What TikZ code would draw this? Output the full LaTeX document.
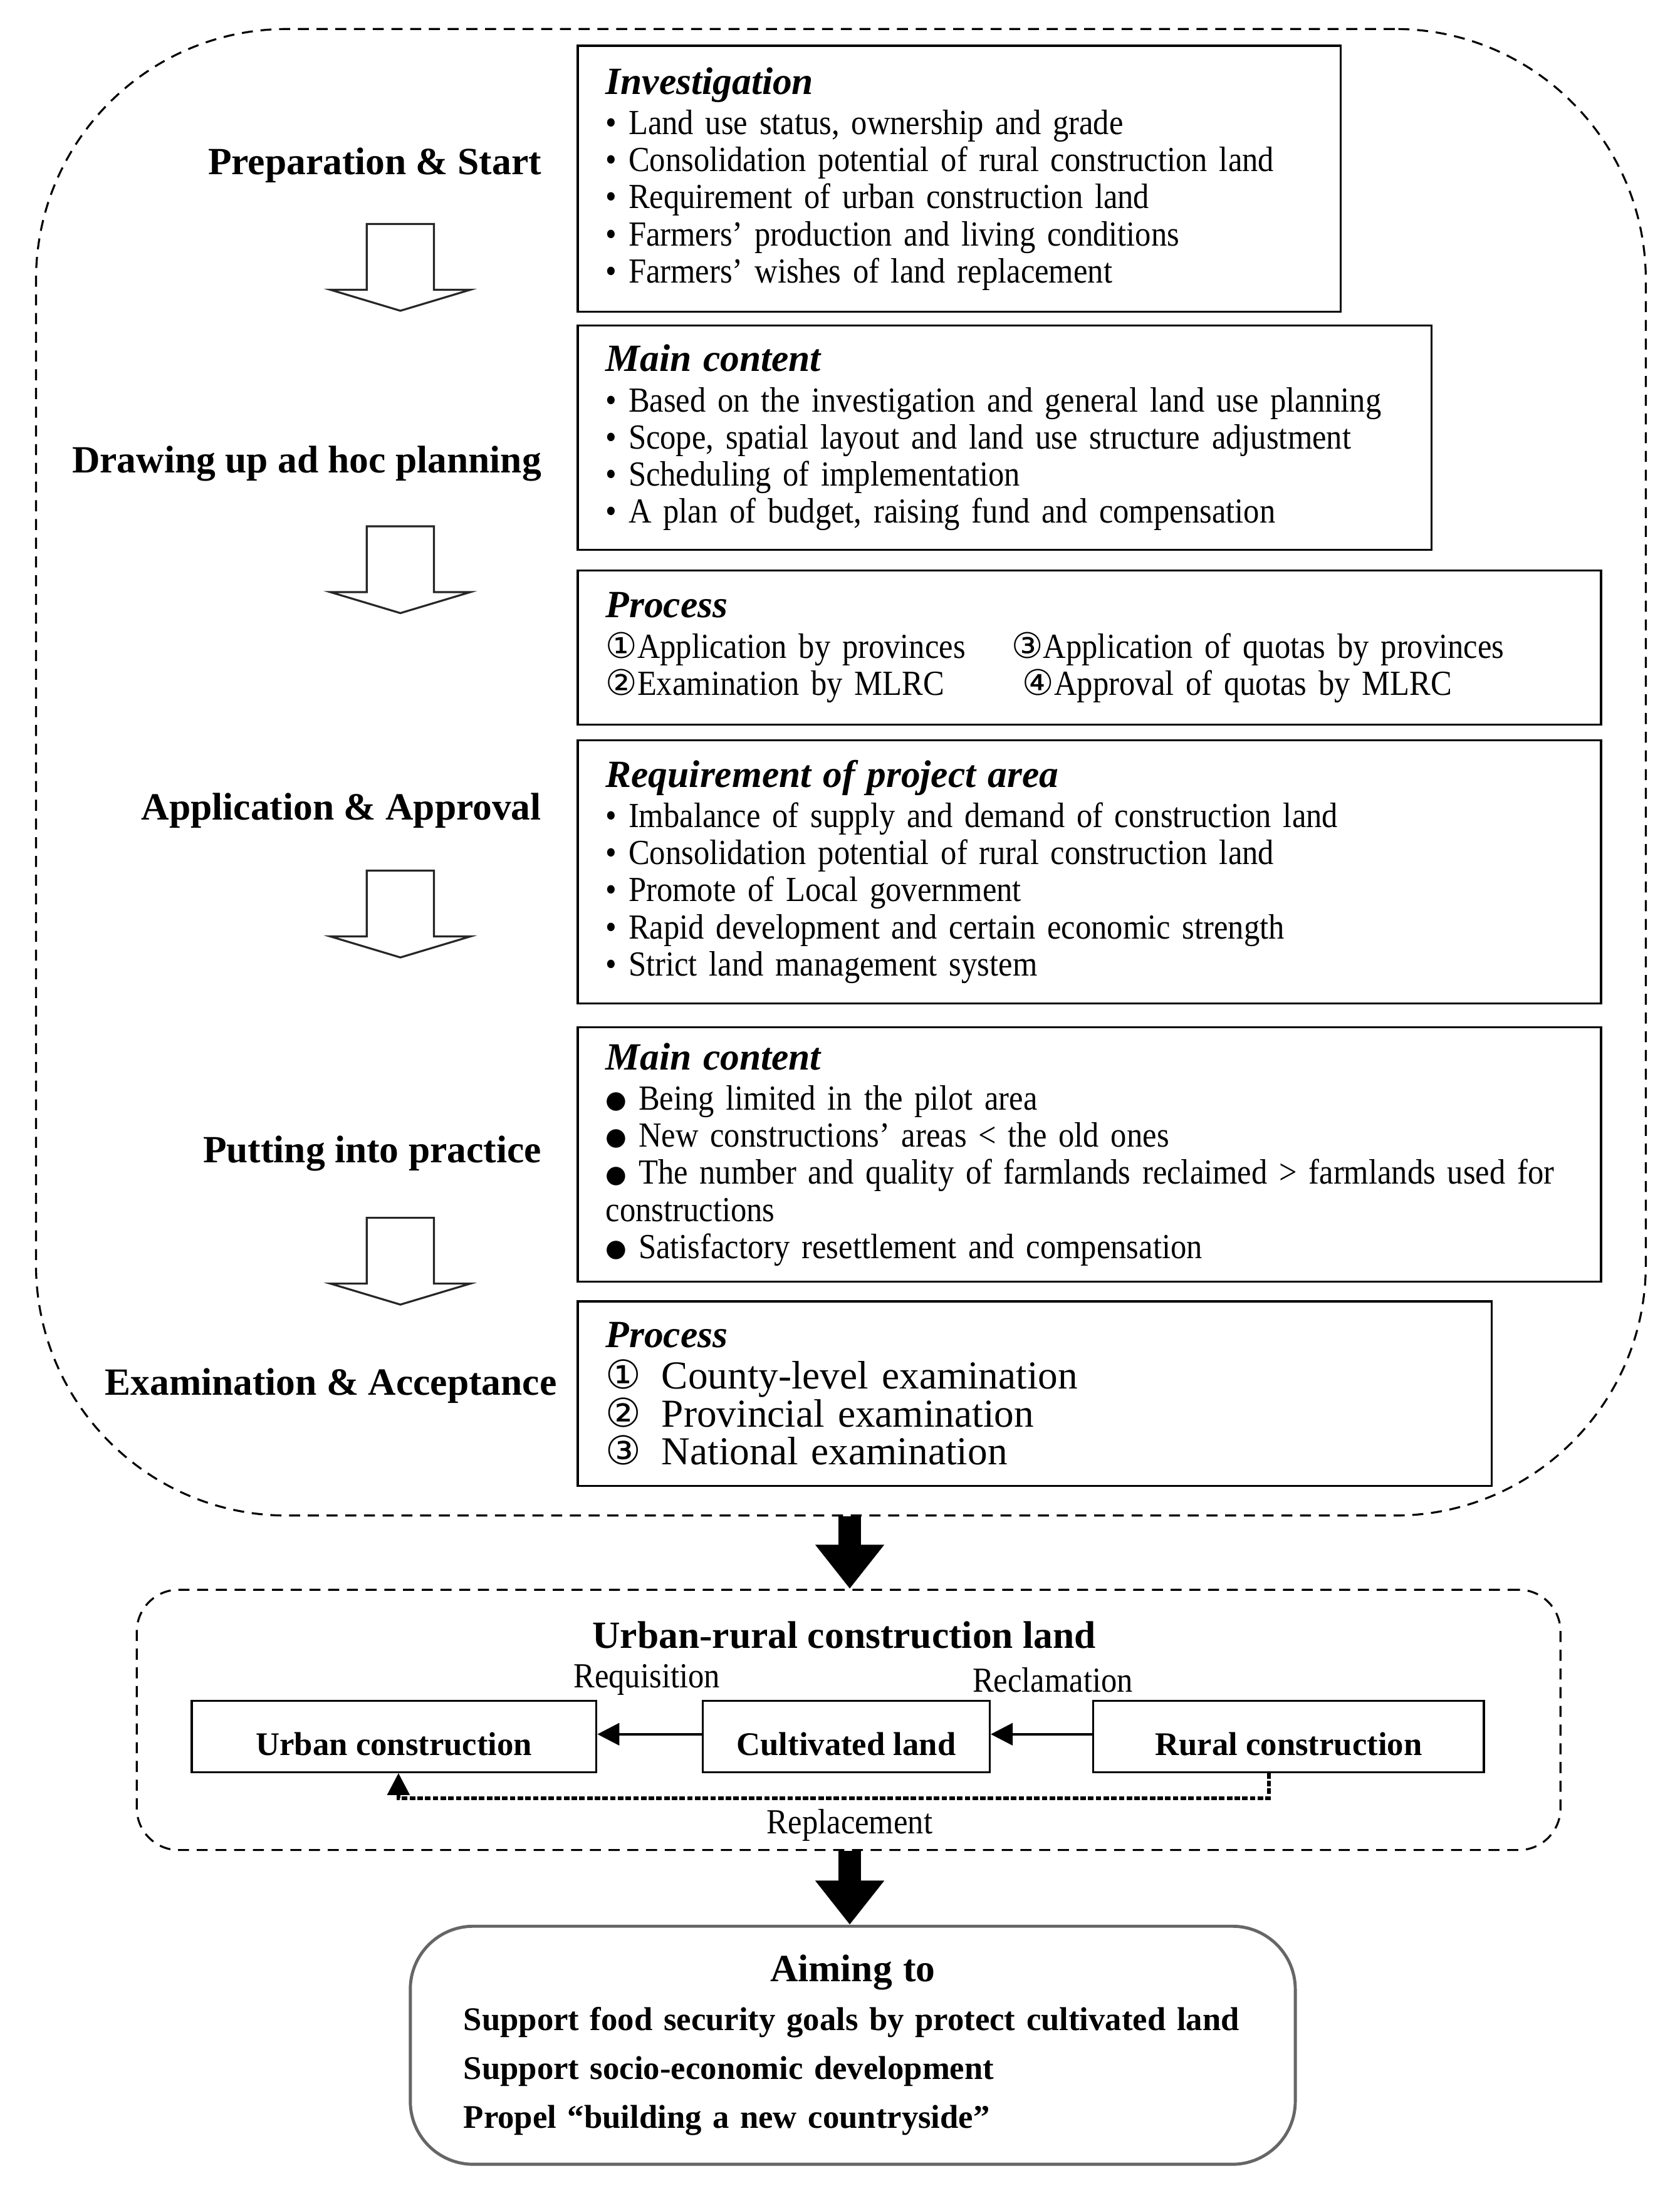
\documentclass[tikz,border=0pt]{standalone}
\usepackage{fontspec}
\setmainfont{Liberation Serif}
\newfontfamily\bodyfont[FakeStretch=0.9]{Liberation Serif}
\newfontfamily\circfont{DejaVu Sans}
\usetikzlibrary{arrows.meta,positioning}

\newcommand\itm{\textbullet\ }
\newcommand\bigitm{\raisebox{0.8pt}{\circfont\fontsize{11}{11}\selectfont ●}\ }
\newcommand\cnum[1]{{\circfont #1}}
\newcommand\boxhead[1]{{\rmfamily\bfseries\itshape\fontsize{17.5}{18}\selectfont #1}}
\newcommand\tightlines{\hyphenpenalty=10000\spaceskip=.2em plus .1em minus .05em\relax}

\begin{document}
\begin{tikzpicture}[x=0.02234cm, y=-0.02234cm,
    infobox/.style={draw, line width=0.9pt, anchor=north west, inner xsep=12.7pt, inner ysep=0pt,
      align=left, font=\bodyfont\fontsize{16}{16.85}\selectfont\tightlines},
    stagelabel/.style={anchor=east, inner sep=0pt, font=\bfseries\fontsize{17.5}{20}\selectfont},
    zone/.style={draw, dash pattern=on 5pt off 3.5pt, line width=0.9pt, anchor=north west},
    landbox/.style={draw, line width=0.9pt, minimum height=32.4pt, inner sep=0pt,
      text height=17pt, text depth=0pt, font=\bfseries\fontsize{15}{15}\selectfont},
    flowlabel/.style={inner sep=0pt, font=\bodyfont\fontsize{16}{16}\selectfont},
    bigarrow/.style={line width=10pt, -{Triangle[length=20pt,width=30pt]}},
    landarrow/.style={line width=1.3pt, -{Triangle[length=10pt,width=10pt]}},
    hollowarrow/.pic={\draw[line width=0.9pt, black!85]
      (-24,0) -- (24,0) -- (24,47) -- (50,47) -- (0,62) -- (-50,47) -- (-24,47) -- cycle;}]
  \useasboundingbox (0,0) rectangle (1200,1566.7);

  % pilot procedure
  \node[zone, rounded corners=114pt, minimum width=730.9pt, minimum height=675pt] (stages) at (25,20) {};

  \node[stagelabel] (prep) at (387,118) {Preparation \& Start};
  \node[stagelabel] (plan) at (387,331) {Drawing up ad hoc planning};
  \node[stagelabel] (apply) at (387,579) {Application \& Approval};
  \node[stagelabel] (practice) at (387,824) {Putting into practice};
  \node[stagelabel] (accept) at (398,990) {Examination \& Acceptance};

  \pic at (286,160) {hollowarrow};
  \pic at (286,376) {hollowarrow};
  \pic at (286,622) {hollowarrow};
  \pic at (286,870) {hollowarrow};

  \node[infobox, minimum width=346.4pt, minimum height=120.8pt, text width=321pt] (invest) at (412,32)
    {\boxhead{Investigation}\\[1.5pt]
     \itm Land use status, ownership and grade\\
     \itm Consolidation potential of rural construction land\\
     \itm Requirement of urban construction land\\
     \itm Farmers’ production and living conditions\\
     \itm Farmers’ wishes of land replacement};
  \node[infobox, minimum width=387.7pt, minimum height=101.7pt, text width=362.3pt] (content) at (412,232)
    {\boxhead{Main content}\\[1.5pt]
     \itm Based on the investigation and general land use planning\\
     \itm Scope, spatial layout and land use structure adjustment\\
     \itm Scheduling of implementation\\
     \itm A plan of budget, raising fund and compensation};
  \node[infobox, minimum width=464.6pt, minimum height=69.9pt, text width=439.2pt] (process) at (412,407)
    {\boxhead{Process}\\[1.5pt]
     \makebox[184.3pt][l]{\cnum{①}Application by provinces}\cnum{③}Application of quotas by provinces\\
     \makebox[184.3pt][l]{\cnum{②}Examination by MLRC}\hspace{5pt}\cnum{④}Approval of quotas by MLRC};
  \node[infobox, minimum width=464.6pt, minimum height=119.5pt, text width=439.2pt] (require) at (412,528)
    {\boxhead{Requirement of project area}\\[1.5pt]
     \itm Imbalance of supply and demand of construction land\\
     \itm Consolidation potential of rural construction land\\
     \itm Promote of Local government\\
     \itm Rapid development and certain economic strength\\
     \itm Strict land management system};
  \node[infobox, minimum width=464.6pt, minimum height=115.7pt, text width=439.2pt] (rules) at (412,733)
    {\boxhead{Main content}\\[1.5pt]
     \bigitm Being limited in the pilot area\\
     \bigitm New constructions’ areas < the old ones\\
     \bigitm The number and quality of farmlands reclaimed > farmlands used for\\
     constructions\\
     \bigitm Satisfactory resettlement and compensation};
  \node[infobox, minimum width=415pt, minimum height=83.9pt, text width=389.6pt,
    font=\rmfamily\fontsize{18}{17.2}\selectfont] (checks) at (412,929)
    {\boxhead{Process}\\[1.5pt]
     \makebox[25.4pt][l]{\cnum{①}}County-level examination\\
     \makebox[25.4pt][l]{\cnum{②}}Provincial examination\\
     \makebox[25.4pt][l]{\cnum{③}}National examination};

  % land use change
  \node[zone, rounded corners=19pt, minimum width=646.4pt, minimum height=118.2pt] (landzone) at (97,1135) {};
  \node[inner sep=0pt, font=\bfseries\fontsize{17.5}{20}\selectfont] (landtitle) at (603,1168) {Urban-rural construction land};
  \node[landbox, minimum width=183.7pt] (urban) at (281.5,1240.5) {Urban construction};
  \node[landbox, minimum width=130.3pt] (cultiv) at (604.5,1240.5) {Cultivated land};
  \node[landbox, minimum width=177.3pt] (rural) at (920.5,1240.5) {Rural construction};
  \node[flowlabel] (requis) at (462,1200) {Requisition};
  \node[flowlabel] (reclaim) at (752,1200) {Reclamation};
  \node[flowlabel] (replace) at (607,1304) {Replacement};

  \draw[landarrow] ([yshift=1pt]cultiv.west) -- ([yshift=1pt]urban.east);
  \draw[landarrow] ([yshift=1pt]rural.west) -- ([yshift=1pt]cultiv.east);
  \draw[landarrow, line width=1.6pt, dash pattern=on 2.5pt off 1pt]
    ([xshift=-9pt]rural.south) -- ++(0,18) -| ([xshift=2pt]urban.south);

  % aims
  \node[draw=black!60, line width=1.4pt, rounded corners=28.6pt, anchor=north west, minimum width=401.7pt,
    minimum height=108.1pt, inner xsep=24.2pt, inner ysep=0pt, text width=353.4pt, align=left,
    font=\bfseries\fontsize{15}{22.2}\selectfont] (aim) at (292,1375)
    {\makebox[353.4pt][c]{\fontsize{17.5}{20}\selectfont Aiming to}\\
     Support food security goals by protect cultivated land\\
     Support socio-economic development\\
     Propel “building a new countryside”};

  \coordinate (axis) at (607,0);
  \draw[bigarrow] (stages.south -| axis) -- (landzone.north -| axis);
  \draw[bigarrow] (landzone.south -| axis) -- (aim.north -| axis);
\end{tikzpicture}
\end{document}
